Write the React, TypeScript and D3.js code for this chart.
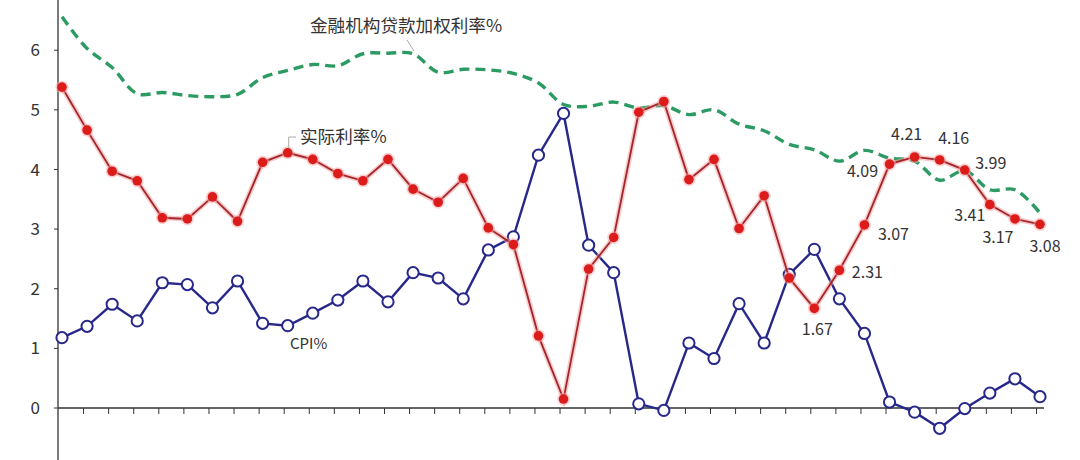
import { line as d3Line, curveCatmullRom, curveLinear, scaleLinear, range } from "d3"

// 实际利率% (real rate), CPI% and 金融机构贷款加权利率% (weighted loan rate), 40 periods
const realRate = [
  5.38, 4.66, 3.97, 3.81, 3.19, 3.17, 3.54, 3.13, 4.12, 4.28,
  4.17, 3.93, 3.81, 4.17, 3.67, 3.45, 3.85, 3.02, 2.74, 1.21,
  0.15, 2.33, 2.86, 4.96, 5.14, 3.83, 4.17, 3.01, 3.56, 2.18,
  1.67, 2.31, 3.07, 4.09, 4.21, 4.16, 3.99, 3.41, 3.17, 3.08,
]
const cpi = [
  1.18, 1.37, 1.74, 1.46, 2.1, 2.07, 1.68, 2.13, 1.42, 1.38,
  1.59, 1.81, 2.13, 1.78, 2.27, 2.18, 1.83, 2.65, 2.87, 4.24,
  4.94, 2.73, 2.27, 0.07, -0.04, 1.09, 0.83, 1.75, 1.09, 2.24,
  2.66, 1.83, 1.25, 0.1, -0.07, -0.34, -0.01, 0.25, 0.49, 0.19,
]
const loanRate = [
  6.56, 6.03, 5.71, 5.27, 5.29, 5.24, 5.22, 5.26, 5.54, 5.66,
  5.76, 5.74, 5.94, 5.95, 5.94, 5.63, 5.68, 5.67, 5.61, 5.45,
  5.09, 5.06, 5.13, 5.03, 5.07, 4.92, 5.0, 4.76, 4.65, 4.42,
  4.33, 4.14, 4.32, 4.19, 4.14, 3.82, 3.98, 3.66, 3.66, 3.27,
]
const yTickValues = [-1, 0, 1, 2, 3, 4, 5, 6]

// labelled points of the real-rate series: index, dx, dy from the marker
const valueLabels = [
  { index: 30, dx: 3, dy: 21 },
  { index: 31, dx: 28, dy: 2 },
  { index: 32, dx: 29, dy: 9 },
  { index: 33, dx: -27, dy: 7 },
  { index: 34, dx: -8, dy: -23 },
  { index: 35, dx: 14, dy: -22 },
  { index: 36, dx: 26, dy: -7 },
  { index: 37, dx: -20, dy: 11 },
  { index: 38, dx: -17, dy: 18 },
  { index: 39, dx: 5, dy: 22 },
]

const font = "'Noto Sans CJK SC', 'Noto Sans', sans-serif"
const textColor = "#333"

export default function App() {
  const width = 1080
  const height = 460
  const axisX = 58

  const x = scaleLinear().domain([0, realRate.length - 1]).range([62, 1040])
  const y = scaleLinear().domain([0, 6]).range([408, 50.2])

  const straight = d3Line<number>()
    .x((_, i) => x(i))
    .y((d) => y(d))
    .curve(curveLinear)
  const smooth = d3Line<number>()
    .x((_, i) => x(i))
    .y((d) => y(d))
    .curve(curveCatmullRom.alpha(0.5))

  const redPath = straight(realRate) ?? ""
  const bluePath = straight(cpi) ?? ""
  const greenPath = smooth(loanRate) ?? ""

  return (
    <div style={{ position: "fixed", left: 0, top: 0, width, height, background: "#fff" }}>
      <svg width={width} height={height} viewBox={`0 0 ${width} ${height}`} style={{ display: "block" }}>
        <rect width={width} height={height} fill="#fff" />

        {/* y axis */}
        <line x1={axisX} x2={axisX} y1={0} y2={height} stroke="#333" strokeWidth={1.3} />
        {yTickValues.map((t) => (
          <g key={t}>
            <line x1={axisX - 4} x2={axisX} y1={y(t)} y2={y(t)} stroke="#333" strokeWidth={1} />
            <text x={40} y={y(t)} dy="0.36em" textAnchor="end" fontFamily={font} fontSize={17} fill={textColor}>
              {t}
            </text>
          </g>
        ))}

        {/* x axis at zero */}
        <line x1={axisX} x2={x(realRate.length - 1) + 4} y1={y(0)} y2={y(0)} stroke="#333" strokeWidth={1.3} />
        {range(1, realRate.length).map((i) => (
          <line key={i} x1={x(i) - 3.5} x2={x(i) - 3.5} y1={y(0)} y2={y(0) + 6} stroke="#333" strokeWidth={1} />
        ))}

        {/* loan rate, dashed smooth green */}
        <path d={greenPath} fill="none" stroke="#2c9a63" strokeWidth={3.4} strokeDasharray="10 6" />

        {/* CPI, navy with open circles */}
        <path d={bluePath} fill="none" stroke="#27288a" strokeWidth={2.4} />
        {cpi.map((v, i) => (
          <circle key={i} cx={x(i)} cy={y(v)} r={5.6} fill="#fff" stroke="#27288a" strokeWidth={2} />
        ))}

        {/* real rate, red with glow */}
        <path d={redPath} fill="none" stroke="#f4a0a0" strokeOpacity={0.55} strokeWidth={5} />
        <path d={redPath} fill="none" stroke="#a3262b" strokeWidth={1.8} />
        {realRate.map((v, i) => (
          <g key={i}>
            <circle cx={x(i)} cy={y(v)} r={6.5} fill="#f6a5a5" fillOpacity={0.5} />
            <circle cx={x(i)} cy={y(v)} r={4.8} fill="#dc1b1b" />
          </g>
        ))}

        {/* series labels */}
        <line x1={407} y1={40} x2={414} y2={51} stroke="#aaa" strokeWidth={1} />
        <text x={310} y={26} dy="0.36em" fontFamily={font} fontSize={17.6} fill={textColor}>
          金融机构贷款加权利率%
        </text>
        <polyline points={`${x(9) + 1},${y(realRate[9]) - 5} ${x(9) + 1},137 296,137`} fill="none" stroke="#aaa" strokeWidth={1} />
        <text x={300} y={137} dy="0.36em" fontFamily={font} fontSize={17.6} fill={textColor}>
          实际利率%
        </text>
        <text x={290} y={344} dy="0.36em" fontFamily={font} fontSize={15} fill={textColor}>
          CPI%
        </text>

        {/* value labels */}
        {valueLabels.map((l) => (
          <text
            key={l.index}
            x={x(l.index) + l.dx}
            y={y(realRate[l.index]) + l.dy}
            dy="0.36em"
            textAnchor="middle"
            fontFamily={font}
            fontSize={16}
            fill={textColor}
          >
            {realRate[l.index].toFixed(2)}
          </text>
        ))}
      </svg>
    </div>
  )
}
